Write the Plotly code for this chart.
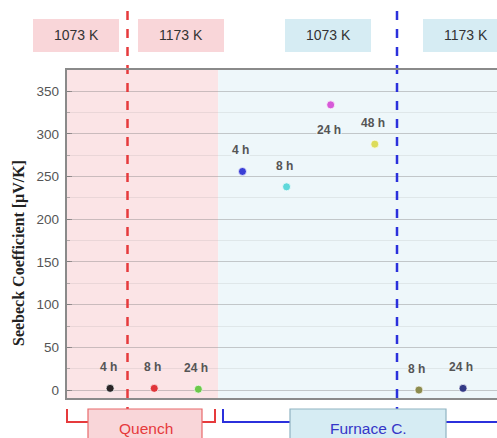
import plotly.graph_objects as go

# Seebeck coefficient of samples annealed at two temperatures, by cooling route
slots = [1, 2, 3, 4, 5, 6, 7, 8, 9]
time_labels = ["4 h", "8 h", "24 h", "4 h", "8 h", "24 h", "48 h", "8 h", "24 h"]
seebeck = [2, 2, 1, 256, 238, 334, 288, 0, 2]
point_colors = ["#2a2426", "#e0353a", "#6cc84a", "#3a3fd6", "#5fd8da",
                "#d65ad8", "#dcdc5a", "#8c8c4e", "#333a86"]
label_above = [True, True, True, True, True, False, True, True, True]

y_ticks = [0, 50, 100, 150, 200, 250, 300, 350]
temp_labels = ["1073 K", "1173 K", "1073 K", "1173 K"]
route_labels = ["Quench", "Furnace C."]

W, H = 497, 438
L, R, T, B = 66, 0, 69, 39
X_RANGE = [0, 9.77]
Y_RANGE = [-10.5, 376]


def px(p):
    """Horizontal pixel -> paper fraction."""
    return (p - L) / (W - L - R)


def py(p):
    """Vertical pixel -> paper fraction."""
    return (H - B - p) / (H - B - T)


RED = "#e63a3c"
BLUE = "#2b30dc"
RED_FILL = "#fbe4e6"
BLUE_FILL = "#eef7fa"
RED_BOX = "#f9d6d9"
BLUE_BOX = "#d6ecf3"

fig = go.Figure()
fig.add_trace(go.Scatter(
    x=slots, y=seebeck, mode="markers",
    marker=dict(size=8, color=point_colors, line=dict(color="rgba(255,255,255,0.7)", width=1)),
    showlegend=False, hoverinfo="skip", cliponaxis=False,
))

shapes = []
# shaded regions for the two cooling routes
shapes.append(dict(type="rect", xref="x", yref="paper", x0=0, x1=3.45, y0=0, y1=1,
                   fillcolor=RED_FILL, line_width=0, layer="below"))
shapes.append(dict(type="rect", xref="x", yref="paper", x0=3.45, x1=X_RANGE[1], y0=0, y1=1,
                   fillcolor=BLUE_FILL, line_width=0, layer="below"))
# dashed temperature separators
shapes.append(dict(type="line", xref="paper", yref="paper", x0=px(127.5), x1=px(127.5),
                   y0=py(11), y1=py(409), line=dict(color=RED, width=2.5, dash="dash")))
shapes.append(dict(type="line", xref="paper", yref="paper", x0=px(397), x1=px(397),
                   y0=py(11), y1=py(409), line=dict(color=BLUE, width=2.5, dash="dash")))
# brackets below the axis
shapes.append(dict(type="path", xref="paper", yref="paper",
                   path=f"M {px(67)},{py(409)} L {px(67)},{py(422)} L {px(88)},{py(422)}",
                   line=dict(color=RED, width=2)))
shapes.append(dict(type="path", xref="paper", yref="paper",
                   path=f"M {px(202)},{py(422)} L {px(215)},{py(422)} L {px(215)},{py(409)}",
                   line=dict(color=RED, width=2)))
shapes.append(dict(type="path", xref="paper", yref="paper",
                   path=f"M {px(223)},{py(409)} L {px(223)},{py(422)} L {px(290)},{py(422)}",
                   line=dict(color=BLUE, width=2)))
shapes.append(dict(type="line", xref="paper", yref="paper",
                   x0=px(446), x1=px(505), y0=py(422), y1=py(422),
                   line=dict(color=BLUE, width=2)))
# route boxes
shapes.append(dict(type="rect", xref="paper", yref="paper", x0=px(88), x1=px(202),
                   y0=py(409), y1=py(450), fillcolor=RED_BOX, line=dict(color="#e8696b", width=1.2)))
shapes.append(dict(type="rect", xref="paper", yref="paper", x0=px(290), x1=px(446),
                   y0=py(409), y1=py(450), fillcolor=BLUE_BOX, line=dict(color="#8fb3c2", width=1.2)))
# temperature boxes along the top
for x0, x1, col in [(33, 119, RED_BOX), (138, 224, RED_BOX), (285, 371, BLUE_BOX), (423, 510, BLUE_BOX)]:
    shapes.append(dict(type="rect", xref="paper", yref="paper", x0=px(x0), x1=px(x1),
                       y0=py(52), y1=py(19), fillcolor=col, line_width=0))
# plot frame
shapes.append(dict(type="path", xref="paper", yref="paper",
                   path=f"M 1.02,1 L 0,1 L 0,0 L 1.02,0",
                   line=dict(color="#8a8a8a", width=2)))

SANS = "Liberation Sans, Arial"
annotations = []
for x, y, lab, above in zip(slots, seebeck, time_labels, label_above):
    annotations.append(dict(x=x, y=y, xref="x", yref="y", text=f"<b>{lab}</b>",
                            showarrow=False, yshift=21 if above else -25, xshift=-2,
                            xanchor="center", yanchor="middle",
                            font=dict(family=SANS, size=12, color="#555"),
                            bgcolor=BLUE_FILL if 4 <= x <= 7 else None, borderpad=0))
for cx, lab in zip([76, 181, 328, 466], temp_labels):
    annotations.append(dict(x=px(cx), y=py(35.5), xref="paper", yref="paper", text=lab,
                            showarrow=False, xanchor="center", yanchor="middle",
                            font=dict(family=SANS, size=14, color="#333")))
annotations.append(dict(x=px(146), y=py(428), xref="paper", yref="paper", text=route_labels[0],
                        showarrow=False, xanchor="center", yanchor="middle",
                        font=dict(family=SANS, size=15.5, color=RED)))
annotations.append(dict(x=px(368), y=py(428), xref="paper", yref="paper", text=route_labels[1],
                        showarrow=False, xanchor="center", yanchor="middle",
                        font=dict(family=SANS, size=15.5, color="#3536c8")))
annotations.append(dict(x=px(19), y=py(253), xref="paper", yref="paper",
                        text="<b>Seebeck Coefficient [μV/K]</b>", textangle=-90, showarrow=False,
                        xanchor="center", yanchor="middle",
                        font=dict(family="Liberation Serif, Times New Roman", size=16, color="#222")))

fig.update_layout(
    width=W, height=H,
    margin=dict(l=L, r=R, t=T, b=B, pad=0),
    paper_bgcolor="white", plot_bgcolor="rgba(0,0,0,0)",
    shapes=shapes, annotations=annotations,
    xaxis=dict(range=X_RANGE, showgrid=False, zeroline=False, showticklabels=False,
               showline=False, ticks=""),
    yaxis=dict(range=Y_RANGE, tickvals=y_ticks, showgrid=True, gridcolor="rgba(120,120,120,0.28)",
               gridwidth=1.2, zeroline=False, showline=False,
               ticks="inside", ticklen=6, tickcolor="rgba(110,110,110,0.6)",
               minor=dict(dtick=25, showgrid=True, gridcolor="rgba(120,120,120,0.13)",
                          ticks="inside", ticklen=4, tickcolor="rgba(110,110,110,0.45)"),
               tickfont=dict(family=SANS, size=13.5, color="#555"),
               ticklabelstandoff=6),
)

fig.write_html("out.html")
